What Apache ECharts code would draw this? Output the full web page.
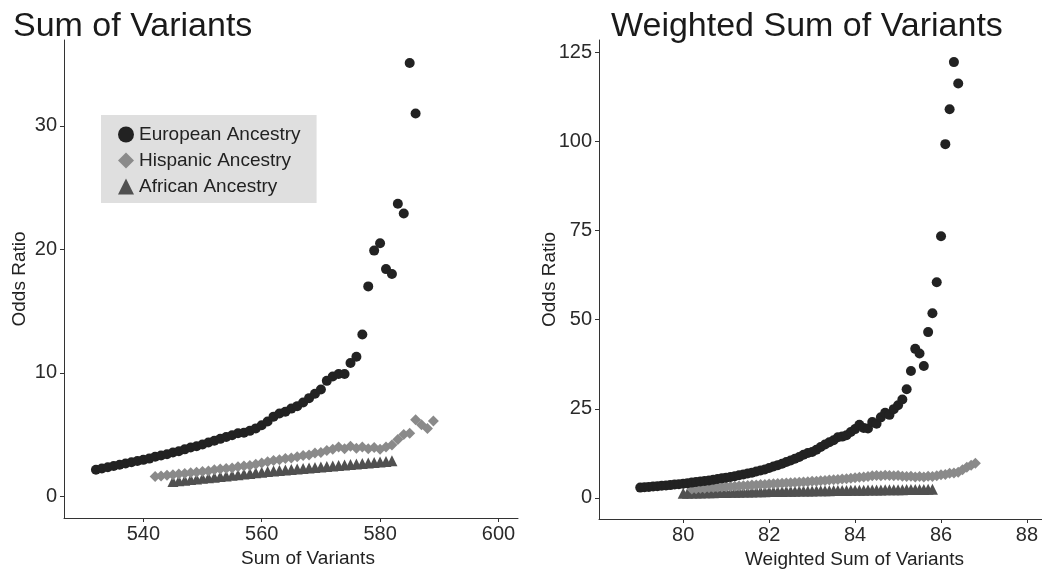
<!DOCTYPE html>
<html><head><meta charset="utf-8">
<script src="https://cdn.jsdelivr.net/npm/echarts@6/dist/echarts.min.js"></script>
<style>html,body{margin:0;padding:0;background:#fff}#c{width:1042px;height:569px}</style>
</head><body><div id="c"></div>
<script>
// ---- Left panel: Sum of Variants ----
const euroSumX = [532,533,534,535,536,537,538,539,540,541,542,543,544,545,546,547,548,549,550,551,552,553,554,555,556,557,558,559,560,561,562,563,564,565,566,567,568,569,570,571,572,573,574,575,576,577,578,579,580,581,582,583,584,585,586];
const euroSumY = [2.15,2.25,2.35,2.45,2.55,2.65,2.75,2.85,2.95,3.05,3.2,3.3,3.4,3.55,3.65,3.8,3.95,4.05,4.2,4.35,4.5,4.65,4.8,4.95,5.1,5.15,5.3,5.5,5.75,6.05,6.45,6.7,6.85,7.1,7.3,7.6,7.95,8.3,8.65,9.35,9.7,9.9,9.9,10.8,11.3,13.1,17.0,19.9,20.5,18.4,18.0,23.7,22.9,35.1,31.0];
const hispSumX = [542,543,544,545,546,547,548,549,550,551,552,553,554,555,556,557,558,559,560,561,562,563,564,565,566,567,568,569,570,571,572,573,574,575,576,577,578,579,580,581,582,583,584,585,586,587,588,589];
const hispSumY = [1.6,1.65,1.7,1.75,1.8,1.85,1.9,1.95,2.0,2.05,2.15,2.2,2.25,2.3,2.4,2.45,2.5,2.6,2.7,2.8,2.9,2.95,3.05,3.1,3.2,3.3,3.35,3.5,3.55,3.7,3.8,4.0,3.85,4.05,3.9,4.0,3.85,3.95,3.8,4.0,4.15,4.6,5.0,5.1,6.2,5.8,5.5,6.1];
const afrSumX = [545,546,547,548,549,550,551,552,553,554,555,556,557,558,559,560,561,562,563,564,565,566,567,568,569,570,571,572,573,574,575,576,577,578,579,580,581,582];
const afrSumY = [1.20,1.25,1.30,1.35,1.40,1.45,1.50,1.55,1.60,1.65,1.70,1.75,1.80,1.85,1.90,1.95,2.00,2.05,2.09,2.13,2.17,2.21,2.25,2.29,2.33,2.37,2.41,2.45,2.49,2.53,2.57,2.61,2.65,2.69,2.73,2.77,2.82,2.88];

// ---- Right panel: Weighted Sum of Variants ----
const euroWX = [79.0,79.1,79.2,79.3,79.4,79.5,79.6,79.7,79.8,79.9,80.0,80.1,80.2,80.3,80.4,80.5,80.6,80.7,80.8,80.9,81.0,81.1,81.2,81.3,81.4,81.5,81.6,81.7,81.8,81.9,82.0,82.1,82.2,82.3,82.4,82.5,82.6,82.7,82.8,82.9,83.0,83.1,83.2,83.3,83.4,83.5,83.6,83.7,83.8,83.9,84.0,84.1,84.2,84.3,84.4,84.5,84.6,84.7,84.8,84.9,85.0,85.1,85.2,85.3,85.4,85.5,85.6,85.7,85.8,85.9,86.0,86.1,86.2,86.3,86.4];
const euroWY = [2.9,3.0,3.1,3.2,3.3,3.4,3.5,3.6,3.75,3.85,4.0,4.15,4.3,4.45,4.6,4.75,4.9,5.1,5.3,5.5,5.7,5.9,6.1,6.35,6.6,6.85,7.1,7.4,7.7,8.0,8.4,8.8,9.2,9.6,10.1,10.5,11.0,11.5,12.1,12.6,12.9,13.5,14.3,15.0,15.6,16.2,17.0,17.2,17.6,18.5,19.3,20.5,19.6,19.5,21.3,20.8,22.6,23.9,23.3,24.9,26.0,27.6,30.5,35.6,41.8,40.5,37.0,46.5,51.8,60.5,73.4,99.2,109.0,122.2,116.2];
const hispWX = [80.2,80.3,80.4,80.5,80.6,80.7,80.8,80.9,81.0,81.1,81.2,81.3,81.4,81.5,81.6,81.7,81.8,81.9,82.0,82.1,82.2,82.3,82.4,82.5,82.6,82.7,82.8,82.9,83.0,83.1,83.2,83.3,83.4,83.5,83.6,83.7,83.8,83.9,84.0,84.1,84.2,84.3,84.4,84.5,84.6,84.7,84.8,84.9,85.0,85.1,85.2,85.3,85.4,85.5,85.6,85.7,85.8,85.9,86.0,86.1,86.2,86.3,86.4,86.5,86.6,86.7,86.8];
const hispWY = [2.5,2.6,2.7,2.75,2.85,2.9,3.0,3.05,3.15,3.2,3.3,3.35,3.45,3.5,3.6,3.65,3.75,3.8,3.9,3.95,4.05,4.1,4.2,4.25,4.35,4.4,4.5,4.55,4.65,4.7,4.8,4.9,5.0,5.1,5.2,5.3,5.4,5.55,5.7,5.8,5.9,6.05,6.2,6.3,6.25,6.4,6.3,6.2,6.3,6.1,6.0,6.1,5.9,6.0,5.9,6.1,6.0,6.2,6.5,6.6,6.9,7.0,7.2,7.9,8.6,9.2,9.7];
const afrWX = [80.0,80.1,80.2,80.3,80.4,80.5,80.6,80.7,80.8,80.9,81.0,81.1,81.2,81.3,81.4,81.5,81.6,81.7,81.8,81.9,82.0,82.1,82.2,82.3,82.4,82.5,82.6,82.7,82.8,82.9,83.0,83.1,83.2,83.3,83.4,83.5,83.6,83.7,83.8,83.9,84.0,84.1,84.2,84.3,84.4,84.5,84.6,84.7,84.8,84.9,85.0,85.1,85.2,85.3,85.4,85.5,85.6,85.7,85.8];
const afrWY = [1.30,1.33,1.36,1.38,1.41,1.43,1.46,1.48,1.51,1.53,1.56,1.58,1.60,1.63,1.65,1.67,1.70,1.72,1.74,1.76,1.78,1.80,1.82,1.84,1.86,1.88,1.90,1.92,1.94,1.96,1.98,2.00,2.02,2.04,2.05,2.07,2.09,2.11,2.12,2.14,2.16,2.18,2.19,2.21,2.23,2.24,2.26,2.27,2.29,2.30,2.32,2.33,2.35,2.36,2.37,2.39,2.40,2.41,2.43];

// ---- Ticks ----
const xTicksLeft = [540, 560, 580, 600];
const yTicksLeft = [0, 10, 20, 30];
const xTicksRight = [80, 82, 84, 86, 88];
const yTicksRight = [0, 25, 50, 75, 100, 125];

const names = ['European Ancestry', 'Hispanic Ancestry', 'African Ancestry'];
const FONT = "'Liberation Sans', Arial, sans-serif";
const AX = '#333333';

function pairs(xs, ys) { return xs.map((x, i) => [x, ys[i]]); }

function xAxisCfg(grid, min, max, ticks, name, shift, gap) {
  return {
    type: 'value', gridIndex: grid, min: min, max: max,
    axisLine: { show: true, onZero: false, lineStyle: { color: AX, width: 1 } },
    axisTick: { show: true, length: 4, customValues: ticks, lineStyle: { color: AX } },
    axisLabel: { customValues: ticks, fontSize: 20, color: '#2a2a2a', margin: 6, fontFamily: FONT },
    splitLine: { show: false },
    name: name, nameLocation: 'middle', nameGap: gap,
    nameTextStyle: { fontSize: 19, color: '#222', fontFamily: FONT, padding: [0, 0, 0, shift] }
  };
}
function yAxisCfg(grid, min, max, ticks, gap) {
  return {
    type: 'value', gridIndex: grid, min: min, max: max,
    axisLine: { show: true, onZero: false, lineStyle: { color: AX, width: 1 } },
    axisTick: { show: true, length: 4, customValues: ticks, lineStyle: { color: AX } },
    axisLabel: { customValues: ticks, fontSize: 20, color: '#2a2a2a', margin: 7, fontFamily: FONT },
    splitLine: { show: false },
    name: 'Odds Ratio', nameLocation: 'middle', nameGap: gap, nameRotate: 90,
    nameMoveOverlap: false,
    nameTextStyle: { fontSize: 19, color: '#222', fontFamily: FONT }
  };
}

const styles = [
  { symbol: 'circle', size: 10, color: '#222222' },
  { symbol: 'diamond', size: 11, color: '#8a8a8a' },
  { symbol: 'triangle', size: 11, color: '#505050' }
];
function sc(i, xi, data) {
  return {
    name: names[i], type: 'scatter', xAxisIndex: xi, yAxisIndex: xi,
    symbol: styles[i].symbol, symbolSize: styles[i].size,
    itemStyle: { color: styles[i].color, opacity: 1 },
    emphasis: { disabled: true }, data: data, z: 3 - i
  };
}

const chart = echarts.init(document.getElementById('c'), null, { renderer: 'canvas' });
chart.setOption({
  animation: false,
  backgroundColor: '#ffffff',
  textStyle: { fontFamily: FONT },
  title: [
    { text: 'Sum of Variants', left: 8, top: 5, textStyle: { fontSize: 34, fontWeight: 'normal', color: '#1a1a1a', fontFamily: FONT } },
    { text: 'Weighted Sum of Variants', left: 606, top: 5, textStyle: { fontSize: 34, fontWeight: 'normal', color: '#1a1a1a', fontFamily: FONT } }
  ],
  legend: {
    data: names, orient: 'vertical', left: 101, top: 115,
    backgroundColor: '#dfdfdf', padding: [10, 16, 7, 17],
    itemWidth: 16, itemHeight: 16, itemGap: 7,
    textStyle: { fontSize: 19, color: '#222', fontFamily: FONT },
    selectedMode: false
  },
  grid: [
    { left: 64, right: 524, top: 40, bottom: 51, outerBoundsMode: 'none', containLabel: false },
    { left: 599, right: 0, top: 40, bottom: 50, outerBoundsMode: 'none', containLabel: false }
  ],
  xAxis: [
    xAxisCfg(0, 526.6, 603.3, xTicksLeft, 'Sum of Variants', 34, 31),
    xAxisCfg(1, 78.04, 88.35, xTicksRight, 'Weighted Sum of Variants', 68, 30)
  ],
  yAxis: [
    yAxisCfg(0, -1.76, 36.96, yTicksLeft, 35),
    yAxisCfg(1, -5.9, 128.4, yTicksRight, 40)
  ],
  series: [
    sc(0, 0, pairs(euroSumX, euroSumY)),
    sc(1, 0, pairs(hispSumX, hispSumY)),
    sc(2, 0, pairs(afrSumX, afrSumY)),
    sc(0, 1, pairs(euroWX, euroWY)),
    sc(1, 1, pairs(hispWX, hispWY)),
    sc(2, 1, pairs(afrWX, afrWY))
  ]
});
</script>
</body></html>
